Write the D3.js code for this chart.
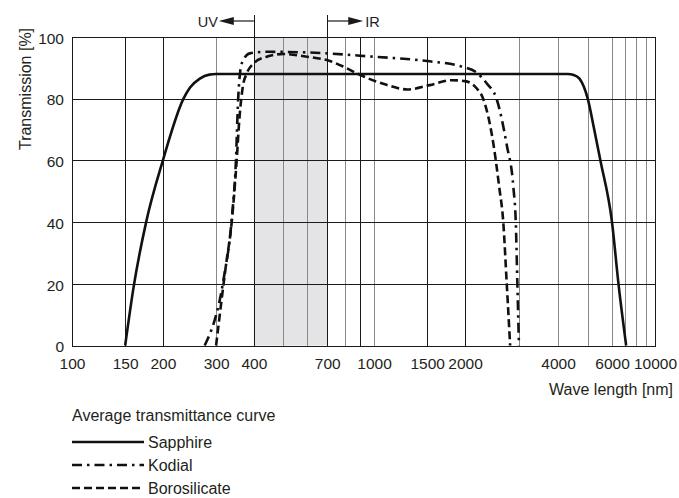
<!DOCTYPE html>
<html lang="en">
<head>
	<title>Average transmittance curve</title>
	<meta charset="utf-8">
	<script src="https://cdn.jsdelivr.net/npm/d3@7"></script>
	<style>
		body { margin: 0; background: #fff; }
		svg text {
			font-family: "Liberation Sans", Arial, Helvetica, sans-serif;
			fill: #231f20;
		}
		.tick text { font-size: 15.5px; }
		.grid line { shape-rendering: crispEdges; }
		.curve { fill: none; stroke: #111; stroke-width: 2.6; }
	</style>
</head>
<body>
	<script>
		// wave length [nm] and transmission [%]
		var sapphire = [
			[150, 0], [160, 19], [176, 40], [200, 60], [234, 80], [246, 83.6], [265, 86.5],
			[285, 87.8], [300, 88], [4300, 88], [4500, 87.7], [4700, 86.5], [4850, 84],
			[5000, 80], [5250, 70], [5500, 60], [6000, 40], [6480, 20], [7100, 0]
		];
		var kodial = [
			[275, 0], [317, 21], [338, 41], [349, 60], [355, 80], [365, 91.5], [388, 94.7],
			[441, 95.2], [600, 95], [1000, 93.6], [1500, 92.2], [1950, 90.4], [2180, 88.5],
			[2350, 85], [2530, 80], [2730, 65], [2870, 51], [2920, 40], [2955, 20], [2990, 0]
		];
		var borosilicate = [
			[300, 0], [323, 25.6], [338, 40], [351, 60], [358, 73], [368, 84], [379, 88.2],
			[400, 91.5], [441, 93.6], [502, 94.5], [600, 93.6], [710, 92.3], [792, 90.4],
			[900, 87.7], [1100, 84.5], [1290, 83], [1530, 84.4], [1810, 86], [2000, 85.7],
			[2180, 83.4], [2290, 80], [2470, 65.5], [2580, 51.5], [2660, 40], [2730, 20], [2800, 0]
		];

		var seriesNames = ["Sapphire", "Kodial", "Borosilicate"];
		var seriesDash = ["none", "10,5,2.5,5", "8,4"];

		var gridX = [100, 150, 200, 300, 400, 500, 600, 700, 800, 900, 1000, 1500, 2000,
			3000, 4000, 5000, 6000, 7000, 8000, 9000, 10000];
		var darkGridX = [100, 150, 200, 400, 700, 900, 1500, 2000, 10000];
		var xLabels = [100, 150, 200, 300, 400, 700, 1000, 1500, 2000, 4000, 6000, 10000];
		var yTicks = [0, 20, 40, 60, 80, 100];
		var visibleBand = [400, 700];

		var width = 679;
		var height = 498;

		var svg = d3.select("body")
			.append("svg")
			.attr("width", width)
			.attr("height", height);

		// the printed axis is log per piece, the upper decade is squeezed
		var x = d3.scaleLog()
			.domain([100, 1000, 2000, 4000, 6000, 10000])
			.range([72, 374, 465, 558, 612, 655]);

		var y = d3.scaleLinear()
			.domain([0, 100])
			.range([345.5, 37]);

		// visible light band
		svg.append("rect")
			.attr("x", x(visibleBand[0]))
			.attr("y", y(100))
			.attr("width", x(visibleBand[1]) - x(visibleBand[0]))
			.attr("height", y(0) - y(100))
			.attr("fill", "#e4e4e6");

		var grid = svg.append("g").attr("class", "grid");

		grid.selectAll(".vx")
			.data(gridX)
			.enter()
			.append("line")
			.attr("x1", function(d) { return Math.round(x(d)) + 0.5; })
			.attr("x2", function(d) { return Math.round(x(d)) + 0.5; })
			.attr("y1", y(100))
			.attr("y2", y(0))
			.attr("stroke", function(d) { return darkGridX.indexOf(d) >= 0 ? "#1a1a1a" : "#8a8a8a"; })
			.attr("stroke-width", 1);

		grid.selectAll(".hy")
			.data(yTicks)
			.enter()
			.append("line")
			.attr("x1", x(100))
			.attr("x2", x(10000) + 1)
			.attr("y1", function(d) { return Math.round(y(d)) + 0.5; })
			.attr("y2", function(d) { return Math.round(y(d)) + 0.5; })
			.attr("stroke", "#1a1a1a")
			.attr("stroke-width", 1);

		// UV / IR markers above the band
		var markY = 21;
		svg.selectAll(".mark")
			.data(visibleBand)
			.enter()
			.append("line")
			.attr("x1", function(d) { return Math.round(x(d)) + 0.5; })
			.attr("x2", function(d) { return Math.round(x(d)) + 0.5; })
			.attr("y1", 15)
			.attr("y2", y(100))
			.attr("stroke", "#1a1a1a");

		var uvX = x(visibleBand[0]), irX = x(visibleBand[1]);
		svg.append("line")
			.attr("x1", uvX).attr("x2", uvX - 22)
			.attr("y1", markY).attr("y2", markY)
			.attr("stroke", "#1a1a1a").attr("stroke-width", 1.2);
		svg.append("path")
			.attr("d", "M" + (uvX - 35) + "," + markY + "L" + (uvX - 20) + "," + (markY - 4) + "L" + (uvX - 20) + "," + (markY + 4) + "Z")
			.attr("fill", "#1a1a1a");
		svg.append("text")
			.attr("x", uvX - 36)
			.attr("y", markY + 6)
			.attr("text-anchor", "end")
			.style("font-size", "14.5px")
			.text("UV");

		svg.append("line")
			.attr("x1", irX).attr("x2", irX + 22)
			.attr("y1", markY).attr("y2", markY)
			.attr("stroke", "#1a1a1a").attr("stroke-width", 1.2);
		svg.append("path")
			.attr("d", "M" + (irX + 36) + "," + markY + "L" + (irX + 21) + "," + (markY - 4) + "L" + (irX + 21) + "," + (markY + 4) + "Z")
			.attr("fill", "#1a1a1a");
		svg.append("text")
			.attr("x", irX + 38)
			.attr("y", markY + 6)
			.style("font-size", "14.5px")
			.text("IR");

		// axes, labels only
		var xAxis = svg.append("g")
			.attr("transform", "translate(0," + y(0) + ")")
			.call(d3.axisBottom(x).tickValues(xLabels).tickSize(0).tickPadding(12).tickFormat(d3.format("d")));
		xAxis.select(".domain").remove();
		xAxis.selectAll("text").attr("fill", "#231f20");

		var yAxis = svg.append("g")
			.attr("transform", "translate(" + x(100) + ",0)")
			.call(d3.axisLeft(y).tickValues(yTicks).tickSize(0).tickPadding(8));
		yAxis.select(".domain").remove();
		yAxis.selectAll("text").attr("fill", "#231f20").attr("dy", "0.4em");

		svg.append("text")
			.attr("x", 673)
			.attr("y", 395)
			.attr("text-anchor", "end")
			.style("font-size", "16px")
			.text("Wave length [nm]");

		svg.append("text")
			.attr("transform", "translate(31,89) rotate(-90)")
			.attr("text-anchor", "middle")
			.style("font-size", "16px")
			.text("Transmission [%]");

		// curves
		var line = d3.line()
			.x(function(d) { return x(d[0]); })
			.y(function(d) { return y(d[1]); })
			.curve(d3.curveMonotoneX);

		var allSeries = [sapphire, kodial, borosilicate];
		svg.selectAll(".curve")
			.data(allSeries)
			.enter()
			.append("path")
			.attr("class", "curve")
			.attr("d", line)
			.attr("stroke-dasharray", function(d, i) { return seriesDash[i]; });

		// legend
		var legend = svg.append("g");
		legend.append("text")
			.attr("x", 72)
			.attr("y", 421)
			.style("font-size", "16px")
			.text("Average transmittance curve");

		var rows = legend.selectAll(".row")
			.data(seriesNames)
			.enter()
			.append("g")
			.attr("transform", function(d, i) { return "translate(72," + (442 + i * 23) + ")"; });

		rows.append("line")
			.attr("x1", 0).attr("x2", 72)
			.attr("stroke", "#111")
			.attr("stroke-width", 2.6)
			.attr("stroke-dasharray", function(d, i) { return seriesDash[i]; });

		rows.append("text")
			.attr("x", 76)
			.attr("y", 6)
			.style("font-size", "16px")
			.text(function(d) { return d; });
	</script>
</body>
</html>
